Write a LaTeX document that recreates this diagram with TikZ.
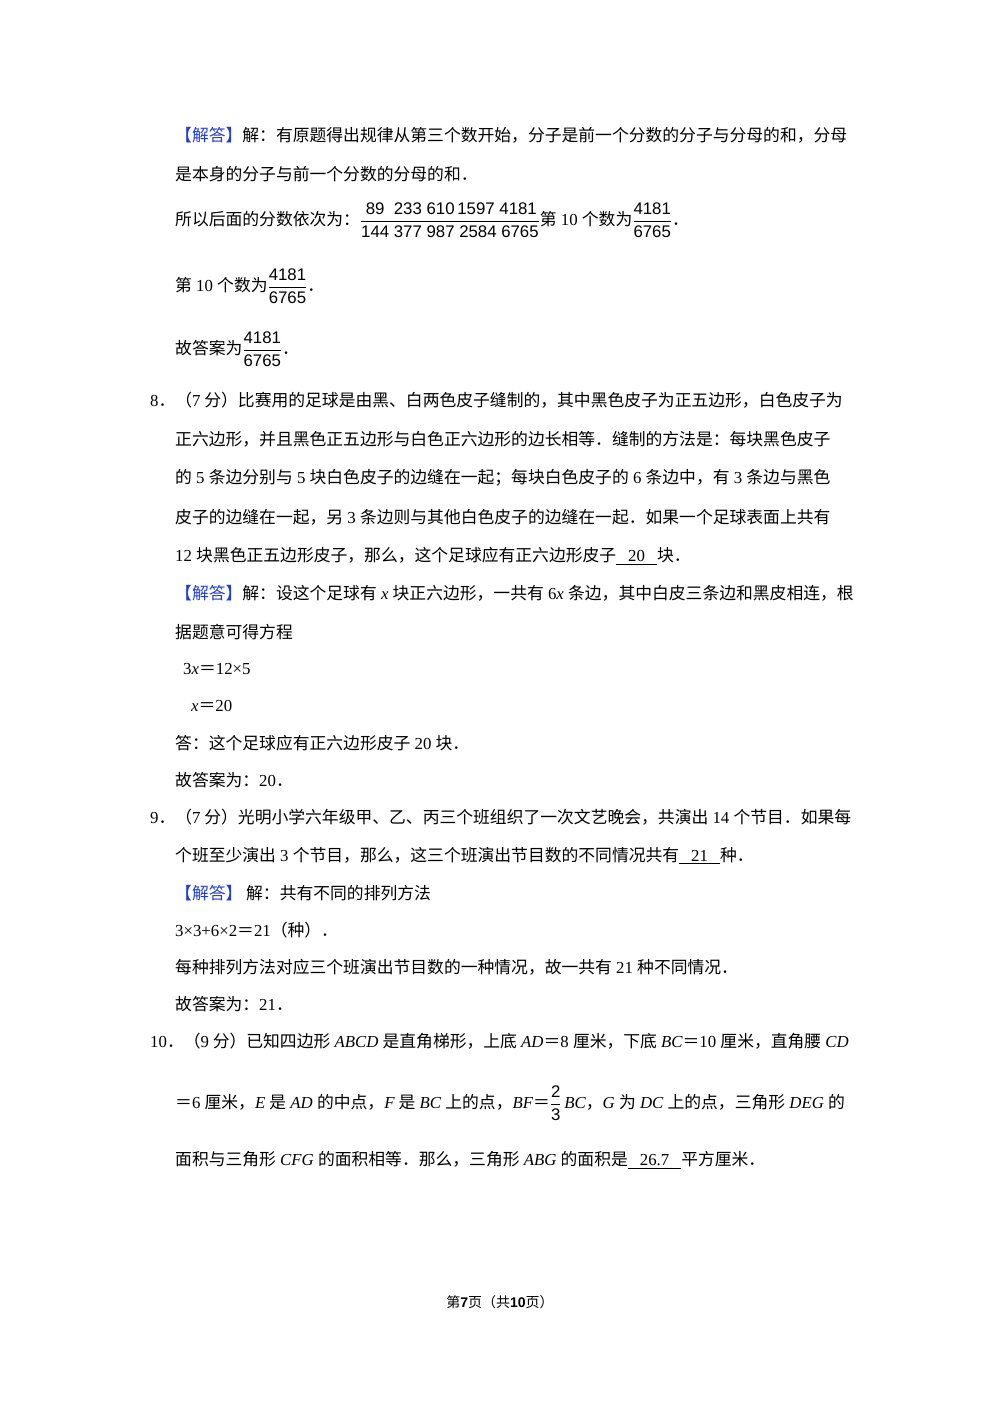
\documentclass[tikz,border=0pt]{standalone}
\usepackage{fontspec}
\setmainfont{Noto Sans CJK SC}
\newfontfamily\lat{Liberation Serif}
\newfontfamily\num{Liberation Sans}
\definecolor{jd}{RGB}{30,60,220}
\newcommand{\jd}{\textcolor{jd}{【解答】}}
\newcommand{\ans}[1]{\underline{\hspace{12pt}#1\hspace{12pt}}}
\newcommand{\fr}[2]{$\dfrac{\hbox{\num #1}}{\hbox{\num #2}}$}
\usepackage{amsmath}
\begin{document}
\begin{tikzpicture}[x=1pt,y=-1pt,t/.style={anchor=west,inner sep=0pt,font=\fontsize{16.8}{18}\selectfont}]
\useasboundingbox (0,0) rectangle (1000,1415);
\node[t] (l1) at (175,135) {\jd 解：有原题得出规律从第三个数开始，分子是前一个分数的分子与分母的和，分母};
\node[t] (l2) at (175,174) {是本身的分子与前一个分数的分母的和．};
\node[t] (l3) at (175,220) {所以后面的分数依次为：\fr{\,89\ \ 233\ 610\,1597\ 4181}{144\ 377\ 987\ 2584\ 6765}第{\lat\ 10 }个数为\fr{4181}{6765}．};
\node[t] (l4) at (175,286) {第{\lat\ 10 }个数为\fr{4181}{6765}．};
\node[t] (l5) at (175,349) {故答案为\fr{4181}{6765}．};
\node[t] (q8) at (150,400) {{\lat 8}．（{\lat 7} 分）比赛用的足球是由黑、白两色皮子缝制的，其中黑色皮子为正五边形，白色皮子为};
\node[t] (a) at (175,439) {正六边形，并且黑色正五边形与白色正六边形的边长相等．缝制的方法是：每块黑色皮子};
\node[t] (b) at (175,478) {的{\lat\ 5 }条边分别与{\lat\ 5 }块白色皮子的边缝在一起；每块白色皮子的{\lat\ 6 }条边中，有{\lat\ 3 }条边与黑色};
\node[t] (c) at (175,517) {皮子的边缝在一起，另{\lat\ 3 }条边则与其他白色皮子的边缝在一起．如果一个足球表面上共有};
\node[t] (d) at (175,556) {{\lat 12 }块黑色正五边形皮子，那么，这个足球应有正六边形皮子\ans{\lat 20}块．};
\node[t] (e) at (175,593) {\jd 解：设这个足球有{\lat\itshape\ x }块正六边形，一共有{\lat\ 6\itshape x }条边，其中白皮三条边和黑皮相连，根};
\node[t] (f) at (175,632) {据题意可得方程};
\node[t] (g) at (183,669) {{\lat 3\textit{x}}＝{\lat 12×5}};
\node[t] (h) at (191,706) {{\lat \textit{x}}＝{\lat 20}};
\node[t] (i) at (175,743) {答：这个足球应有正六边形皮子{\lat\ 20 }块．};
\node[t] (j) at (175,780) {故答案为：{\lat 20}．};
\node[t] (q9) at (150,817) {{\lat 9}．（{\lat 7} 分）光明小学六年级甲、乙、丙三个班组织了一次文艺晚会，共演出{\lat\ 14 }个节目．如果每};
\node[t] (k) at (175,856) {个班至少演出{\lat\ 3 }个节目，那么，这三个班演出节目数的不同情况共有\ans{\lat 21}种．};
\node[t] (m) at (175,893) {\jd\ 解：共有不同的排列方法};
\node[t] (n) at (175,930) {{\lat 3×3+6×2}＝{\lat 21}（种）．};
\node[t] (o) at (175,967) {每种排列方法对应三个班演出节目数的一种情况，故一共有{\lat\ 21 }种不同情况．};
\node[t] (p) at (175,1004) {故答案为：{\lat 21}．};
\node[t] (q10) at (150,1041) {{\lat 10}．（{\lat 9} 分）已知四边形{\lat\itshape\ ABCD }是直角梯形，上底{\lat\itshape\ AD}＝{\lat 8 }厘米，下底{\lat\itshape\ BC}＝{\lat 10 }厘米，直角腰{\lat\itshape\ CD}};
\node[t] (r) at (175,1103) {＝{\lat 6 }厘米，{\lat\itshape E }是{\lat\itshape\ AD }的中点，{\lat\itshape F }是{\lat\itshape\ BC }上的点，{\lat\itshape BF}＝\fr{2}{3}\,{\lat\itshape BC}，{\lat\itshape G }为{\lat\itshape\ DC }上的点，三角形{\lat\itshape\ DEG }的};
\node[t] (s) at (175,1160) {面积与三角形{\lat\itshape\ CFG }的面积相等．那么，三角形{\lat\itshape\ ABG }的面积是\ans{\lat 26.7}平方厘米．};
\node[anchor=center,inner sep=0pt,font=\fontsize{14}{16}\selectfont] (ft) at (500,1302) {第{\bfseries\num 7}页（共{\bfseries\num 10}页）};
\end{tikzpicture}
\end{document}
